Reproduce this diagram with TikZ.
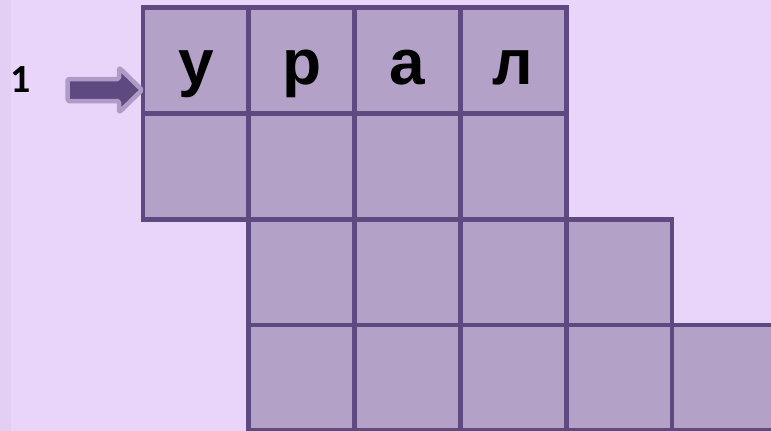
\documentclass[tikz,border=0pt]{standalone}
\usepackage{fontspec}
\setmainfont{Liberation Sans}
\newfontfamily\digitfont{Carlito}
\definecolor{bgc}{HTML}{E9D5FA}
\definecolor{stripc}{HTML}{E3CFF4}
\definecolor{cellc}{HTML}{B3A1C7}
\definecolor{linec}{HTML}{5E4A80}
\definecolor{arrbord}{HTML}{AE9BC6}
\begin{document}
\begin{tikzpicture}[x=1pt,y=-1pt,
  cellbox/.style={draw=linec,fill=cellc,line width=4.8pt,minimum size=105.8pt,inner sep=0pt,anchor=north west,outer sep=0pt},
  letter/.style={font=\bfseries\fontsize{64}{64}\selectfont,anchor=base,inner sep=0pt,text=black},
  numlabel/.style={font=\digitfont\bfseries\fontsize{40}{40}\selectfont,anchor=base,inner sep=0pt,text=black}]
\useasboundingbox (0,0) rectangle (771,431);
\fill[bgc] (0,0) rectangle (771,431);
\fill[stripc] (0,0) rectangle (11,431);
% row 1
\node[cellbox] (a1) at (143,7.5) {};
\node[cellbox] (a2) at (248.8,7.5) {};
\node[cellbox] (a3) at (354.6,7.5) {};
\node[cellbox] (a4) at (460.4,7.5) {};
% row 2
\node[cellbox] (b1) at (143,113.3) {};
\node[cellbox] (b2) at (248.8,113.3) {};
\node[cellbox] (b3) at (354.6,113.3) {};
\node[cellbox] (b4) at (460.4,113.3) {};
% row 3
\node[cellbox] (c2) at (248.8,219.1) {};
\node[cellbox] (c3) at (354.6,219.1) {};
\node[cellbox] (c4) at (460.4,219.1) {};
\node[cellbox] (c5) at (566.2,219.1) {};
% row 4
\node[cellbox] (d2) at (248.8,324.9) {};
\node[cellbox] (d3) at (354.6,324.9) {};
\node[cellbox] (d4) at (460.4,324.9) {};
\node[cellbox] (d5) at (566.2,324.9) {};
\node[cellbox] (d6) at (672,324.9) {};
% letters (baseline at y = 84)
\node[letter] (l1) at ([yshift=-24pt]a1.center) {у};
\node[letter] (l2) at ([yshift=-24pt]a2.center) {р};
\node[letter] (l3) at ([yshift=-24pt]a3.center) {а};
\node[letter] (l4) at ([yshift=-24pt]a4.center) {л};
% number
\node[numlabel] (n1) at (21,92) {1};
% arrow
\coordinate (tip) at (142,90);
\filldraw[fill=linec,draw=arrbord,line width=4.5pt,line join=round,rounded corners=1.5pt]
  (67.5,79) -- (119,79) -- (119,67.5) -- (tip) -- (119,112.5) -- (119,101) -- (67.5,101) -- cycle;
\end{tikzpicture}
\end{document}
